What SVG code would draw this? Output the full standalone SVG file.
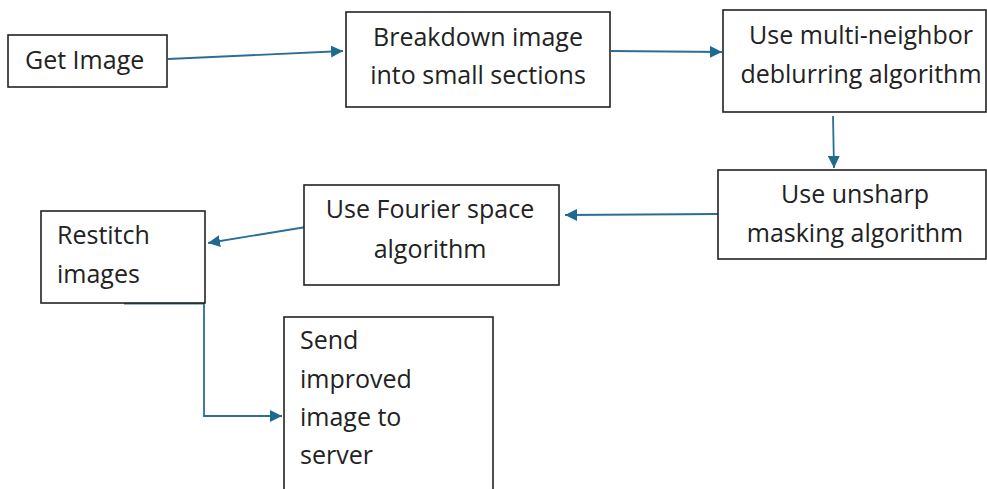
<svg xmlns="http://www.w3.org/2000/svg" width="987" height="489" viewBox="0 0 987 489">
<style>
.box{fill:#fff;stroke:#222;stroke-width:1.6}
.t{font-family:"Open Sans","Liberation Sans",sans-serif;font-size:25px;fill:#222}
.c{text-anchor:middle}
.conn{fill:none;stroke:#2a6f93;stroke-width:1.8}
</style>
<defs>
<marker id="ah" viewBox="0 0 10 10" refX="10" refY="5" markerWidth="12" markerHeight="12" markerUnits="userSpaceOnUse" orient="auto">
<path d="M0,0 L10,5 L0,10 z" fill="#1f6a8f"/>
</marker>
</defs>
<rect width="987" height="489" fill="#fff"/>
<g id="connectors">
<path class="conn" d="M168,59 L343,51" marker-end="url(#ah)"/>
<path class="conn" d="M611,51 L722,52" marker-end="url(#ah)"/>
<path class="conn" d="M833,116 L834,168" marker-end="url(#ah)"/>
<path class="conn" d="M718,214 L565,215" marker-end="url(#ah)"/>
<path class="conn" d="M306,227 L208,243" marker-end="url(#ah)"/>
<path class="conn" d="M124,303.5 L204,303.5 L204,416 L282,416" marker-end="url(#ah)"/>
</g>
<g id="get-image">
<rect class="box" x="8" y="35" width="159" height="52"/>
<text class="t" x="25" y="69">Get Image</text>
</g>
<g id="breakdown">
<rect class="box" x="346" y="12" width="264" height="95"/>
<text class="t c" x="478" y="46">Breakdown image</text>
<text class="t c" x="478" y="84">into small sections</text>
</g>
<g id="multi-neighbor">
<rect class="box" x="723" y="10" width="263" height="102"/>
<text class="t c" x="861" y="44">Use multi-neighbor</text>
<text class="t c" x="861" y="83">deblurring algorithm</text>
</g>
<g id="unsharp">
<rect class="box" x="718" y="170" width="268" height="89"/>
<text class="t c" x="855" y="203">Use unsharp</text>
<text class="t c" x="855" y="242">masking algorithm</text>
</g>
<g id="fourier">
<rect class="box" x="304" y="185" width="255" height="100"/>
<text class="t c" x="430" y="218">Use Fourier space</text>
<text class="t c" x="430" y="258">algorithm</text>
</g>
<g id="restitch">
<rect class="box" x="41" y="211" width="164" height="92"/>
<text class="t" x="57" y="244">Restitch</text>
<text class="t" x="57" y="283">images</text>
</g>
<g id="send">
<rect class="box" x="284" y="317" width="209" height="175"/>
<text class="t" x="300" y="349">Send</text>
<text class="t" x="300" y="388">improved</text>
<text class="t" x="300" y="426">image to</text>
<text class="t" x="300" y="464">server</text>
</g>
</svg>
